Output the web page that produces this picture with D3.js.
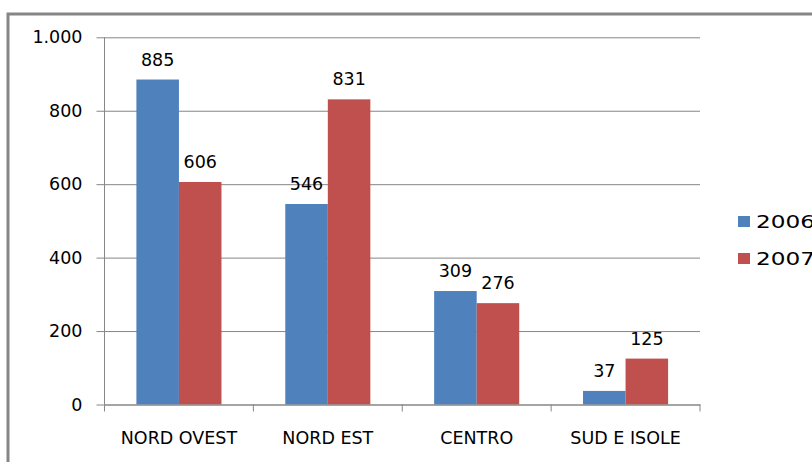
<!DOCTYPE html>
<html><head><meta charset="utf-8">
<script src="https://cdn.jsdelivr.net/npm/d3@7"></script>
<style>html,body{margin:0;padding:0;background:#fff;overflow:hidden}svg{display:block}</style>
</head><body>
<svg id="c" width="812" height="462"></svg>
<script>
const categories = ["NORD OVEST", "NORD EST", "CENTRO", "SUD E ISOLE"];
const seriesNames = ["2006", "2007"];
const values2006 = [885, 546, 309, 37];
const values2007 = [606, 831, 276, 125];
const yTicks = [0, 200, 400, 600, 800, 1000];
const yTickLabels = ["0", "200", "400", "600", "800", "1.000"];
const colors = ["#4F81BD", "#C0504D"];

(function () {
const svg = d3.select("#c");
const font = "DejaVu Sans, Verdana, sans-serif";
const fs = 17.5;
const pLeft = 104.5, pRight = 700, pTop = 37.3, pBottom = 404.5;

// outer frame
svg.append("rect").attr("x", 8).attr("y", 14).attr("width", 830).attr("height", 480)
  .attr("fill", "none").attr("stroke", "#868686").attr("stroke-width", 3);

const x = d3.scaleBand().domain(categories).range([pLeft, pRight]).paddingInner(0).paddingOuter(0);
const x1 = d3.scaleBand().domain(seriesNames).range([0, x.bandwidth()]).paddingInner(0).paddingOuter(0.75);
const y = d3.scaleLinear().domain([0, 1000]).range([pBottom, pTop]);

// gridlines + y axis
const yAxis = d3.axisLeft(y).tickValues(yTicks).tickSize(-(pRight - pLeft)).tickSizeOuter(0)
  .tickFormat((d, i) => yTickLabels[i]).tickPadding(22);
const gy = svg.append("g").attr("transform", `translate(${pLeft},0)`).call(yAxis);
gy.select(".domain").remove();
gy.selectAll(".tick line").attr("stroke", "#868686").attr("x1", -8);
gy.selectAll(".tick text").attr("font-family", font).attr("font-size", fs).attr("fill", "#000");

const data = categories.map((c, i) => ({cat: c, vals: [values2006[i], values2007[i]]}));
const groups = svg.append("g").selectAll("g").data(data).join("g")
  .attr("transform", d => `translate(${x(d.cat)},0)`);
groups.selectAll("rect").data(d => d.vals.map((v, j) => ({k: seriesNames[j], v, j})))
  .join("rect")
  .attr("x", d => x1(d.k)).attr("width", x1.bandwidth())
  .attr("y", d => y(d.v)).attr("height", d => y(0) - y(d.v))
  .attr("fill", d => colors[d.j]);
groups.selectAll("text").data(d => d.vals.map((v, j) => ({k: seriesNames[j], v, j})))
  .join("text")
  .attr("x", d => x1(d.k) + x1.bandwidth() / 2).attr("y", d => y(d.v) - 14)
  .attr("text-anchor", "middle").attr("font-family", font).attr("font-size", fs).attr("fill", "#000")
  .text(d => d.v);

// y axis line
svg.append("line").attr("x1", pLeft).attr("x2", pLeft).attr("y1", pTop).attr("y2", pBottom)
  .attr("stroke", "#868686");
// x axis
const xAxis = d3.axisBottom(x).tickSize(0).tickSizeOuter(0).tickPadding(27);
const gx = svg.append("g").attr("transform", `translate(0,${pBottom})`).call(xAxis);
gx.select(".domain").attr("stroke", "#868686");
gx.selectAll(".tick text").attr("font-family", font).attr("font-size", fs).attr("fill", "#000");
// category boundary ticks
const bounds = categories.map(c => x(c)).concat([pRight]);
svg.append("g").selectAll("line").data(bounds).join("line")
  .attr("x1", d => d).attr("x2", d => d).attr("y1", pBottom).attr("y2", pBottom + 7)
  .attr("stroke", "#868686");

// legend
const lg = svg.append("g").selectAll("g").data(seriesNames).join("g")
  .attr("transform", (d, i) => `translate(738,${216 + i * 37})`);
lg.append("rect").attr("width", 12).attr("height", 11).attr("fill", (d, i) => colors[i]);
lg.append("text").attr("x", 18).attr("y", 6).attr("dy", "0.35em")
  .attr("font-family", font).attr("font-size", 18.5).attr("fill", "#000")
  .attr("textLength", 59).attr("lengthAdjust", "spacingAndGlyphs").text(d => d);
})();
</script>
</body></html>
